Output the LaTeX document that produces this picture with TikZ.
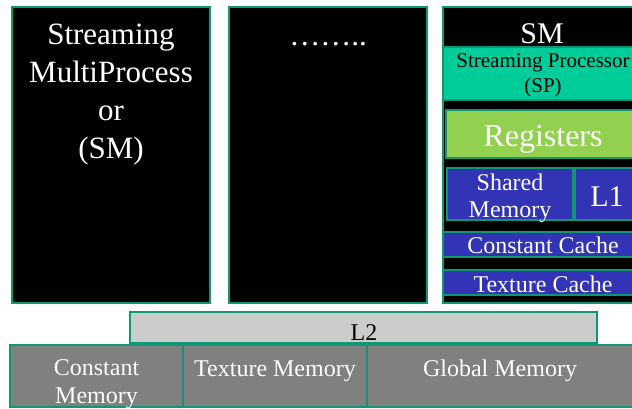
\documentclass[tikz,border=0pt]{standalone}
\usepackage{fontspec}
\setmainfont{Liberation Serif}
\definecolor{edgecol}{RGB}{16,150,115}
\definecolor{spcol}{RGB}{0,204,153}
\definecolor{regcol}{RGB}{146,208,80}
\definecolor{bluecol}{RGB}{51,51,181}
\definecolor{l2col}{RGB}{204,204,204}
\definecolor{memcol}{RGB}{128,128,128}
\begin{document}
\begin{tikzpicture}[x=1pt,y=-1pt,
  blk/.style={draw=edgecol,line width=2.5pt},
  txt/.style={inner sep=0pt,anchor=base,align=center},
]
\useasboundingbox (0,0) rectangle (632,409);
\fill[white] (0,0) rectangle (632,409);
\begin{scope}
\clip (0,0) rectangle (632,409);
% SM columns
\draw[blk,fill=black] (12,7) rectangle (210,303);
\draw[blk,fill=black] (229,7) rectangle (427,303);
\draw[blk,fill=black] (443,7) rectangle (642,303);
% SM internals
\draw[blk,fill=spcol] (443,47) rectangle (642,100);
\draw[blk,fill=regcol] (446,110) rectangle (642,158);
\draw[blk,fill=bluecol] (447,168) rectangle (573,220);
\draw[blk,fill=bluecol] (575,168) rectangle (642,220);
\draw[blk,fill=bluecol] (443,232) rectangle (642,257);
\draw[blk,fill=bluecol] (443,270) rectangle (642,295);
% L2 and memories
\draw[blk,fill=l2col] (130,312) rectangle (597,343);
\draw[blk,fill=memcol] (10,345) rectangle (183,407);
\draw[blk,fill=memcol] (183,345) rectangle (367,407);
\draw[blk,fill=memcol] (367,345) rectangle (645,407);
\end{scope}
% texts (anchor=base is the baseline of the last line)
\node[txt,text=white,font=\fontsize{31}{38}\selectfont] (smbig) at (111,158) {Streaming\\MultiProcess\\or\\(SM)};
\node[txt,text=white,font=\fontsize{31}{38}\selectfont] (dots) at (328,46) {……..};
\node[txt,text=white,font=\fontsize{30}{36}\selectfont] (smlabel) at (542,44) {SM};
\node[txt,text=black,font=\fontsize{21}{25}\selectfont] (sp) at (543,93) {Streaming Processor\\(SP)};
\node[txt,text=white,font=\fontsize{32}{38}\selectfont] (reg) at (543,147) {Registers};
\node[txt,text=white,font=\fontsize{24}{27}\selectfont] (shm) at (510,217) {Shared\\Memory};
\node[txt,text=white,font=\fontsize{30}{36}\selectfont] (lone) at (607,207) {L1};
\node[txt,text=white,font=\fontsize{24}{28}\selectfont] (cc) at (543,253) {Constant Cache};
\node[txt,text=white,font=\fontsize{24}{28}\selectfont] (tc) at (543,292) {Texture Cache};
\node[txt,text=black,font=\fontsize{24}{28}\selectfont] (ltwo) at (364,340) {L2};
\node[txt,text=white,font=\fontsize{24}{28}\selectfont] (cm) at (96.5,403) {Constant\\Memory};
\node[txt,text=white,font=\fontsize{24}{28}\selectfont] (tm) at (275,376) {Texture Memory};
\node[txt,text=white,font=\fontsize{24}{28}\selectfont] (gm) at (500,376) {Global Memory};
\end{tikzpicture}
\end{document}
